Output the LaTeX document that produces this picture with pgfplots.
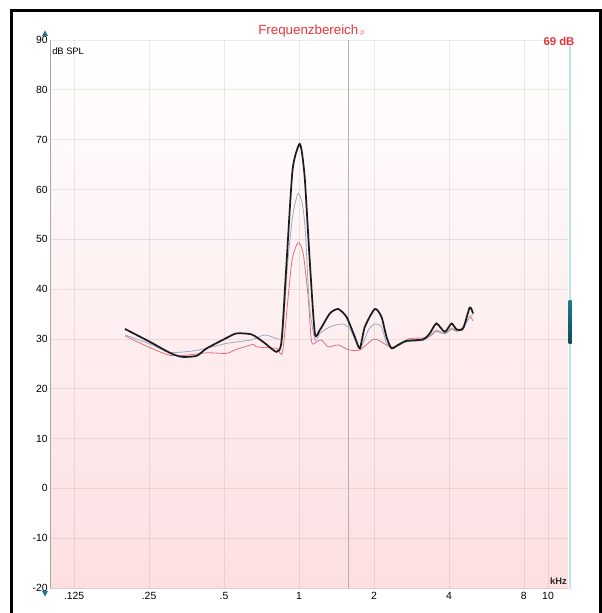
\documentclass[border=0pt]{standalone}
\usepackage{fontspec}
\setmainfont{Liberation Sans}
\usepackage{pgfplots}
\pgfplotsset{compat=1.18}

\definecolor{curveblack}{HTML}{1C1C1C}
\definecolor{curveblue}{HTML}{98AAC4}
\definecolor{curvered}{HTML}{E0707E}
\definecolor{pinkbottom}{RGB}{253,223,225}
\definecolor{pinkline}{RGB}{232,200,202}
\definecolor{titlered}{HTML}{E8343C}
\definecolor{tealmark}{HTML}{1F7A88}
\definecolor{tealdark}{HTML}{0B4B56}
\definecolor{tealline}{HTML}{BFE2EA}

% frequency in kHz, level in dB SPL
\pgfplotstableread{
f     db
0.200 32.0
0.252 29.4
0.303 27.2
0.338 26.4
0.388 26.6
0.426 28.1
0.512 30.2
0.561 31.1
0.645 30.9
0.718 29.4
0.813 27.4
0.851 29.6
0.891 45.2
0.942 63.9
1.000 69.0
1.024 67.9
1.056 61.9
1.106 45.2
1.158 31.1
1.213 31.8
1.330 35.1
1.436 36.0
1.552 34.4
1.676 30.4
1.755 28.1
1.838 32.4
2.016 36.0
2.145 34.4
2.246 30.4
2.352 28.1
2.500 28.8
2.700 29.6
3.150 29.9
3.350 31.1
3.565 33.1
3.850 31.4
4.100 33.1
4.290 31.9
4.560 32.1
4.850 36.3
5.000 35.1
}\levelhigh

\pgfplotstableread{
f     db
0.200 30.8
0.252 29.0
0.303 27.3
0.388 27.7
0.512 29.1
0.645 29.8
0.729 30.8
0.838 29.9
0.860 31.0
0.900 45.0
0.942 54.5
0.990 59.2
1.030 57.2
1.060 51.8
1.100 37.1
1.158 29.8
1.213 31.1
1.330 32.4
1.490 33.0
1.600 32.1
1.755 28.1
1.900 31.8
2.016 33.0
2.145 32.4
2.246 29.1
2.352 28.3
2.500 28.6
2.700 29.4
3.150 29.7
3.350 30.6
3.565 31.8
3.850 31.0
4.100 32.2
4.290 31.6
4.560 32.0
4.850 34.5
5.000 34.8
}\levelmid

\pgfplotstableread{
f     db
0.200 30.6
0.303 26.7
0.426 27.2
0.512 27.1
0.561 27.9
0.655 28.9
0.675 28.4
0.813 28.1
0.860 27.6
0.934 45.2
0.992 49.3
1.039 47.2
1.088 38.5
1.123 29.4
1.176 29.4
1.232 29.8
1.310 28.4
1.436 28.8
1.587 27.8
1.755 27.8
1.985 29.9
2.110 29.6
2.315 28.4
2.500 28.6
2.750 30.0
3.150 30.2
3.350 30.5
3.565 31.5
3.850 31.0
4.100 32.0
4.290 31.5
4.560 32.4
4.850 34.4
5.000 33.6
}\levellow

\begin{document}
\begin{tikzpicture}
\useasboundingbox (0pt,0pt) rectangle (450.75pt,459.75pt);
\fill[white] (0pt,0pt) rectangle (450.75pt,459.75pt);

\begin{axis}[
  at={(37.5pt,18.75pt)}, anchor=south west,
  scale only axis, width=388.5pt, height=411pt,
  xmode=log, log basis x=2,
  xmin=0.1, xmax=12.03, ymin=-20, ymax=90,
  xtick={0.125,0.25,0.5,1,2,4,8,10},
  xticklabels={.125,.25,.5,1,2,4,8,10},
  ytick={-20,-10,...,90},
  major tick length=0pt,
  grid=major,
  grid style={black, opacity=0.08, line width=0.5pt},
  axis line style={draw=none},
  axis background/.style={top color=white, bottom color=pinkbottom},
  tick label style={font=\fontsize{7.8}{9}\selectfont, text=black},
  /pgf/number format/assume math mode=true,
  yticklabel style={inner sep=1.5pt},
  xticklabel style={inner sep=1pt, yshift=-2pt},
]
  % cursor line
  \draw[color=gray!60, line width=0.75pt] (axis cs:1.587,-20) -- (axis cs:1.587,90);

  \addplot[curvered, line width=0.6pt, smooth, tension=0.4] table[x=f, y=db] {\levellow};
  \addplot[curveblue, line width=0.6pt, smooth, tension=0.4] table[x=f, y=db] {\levelmid};
  \addplot[curveblack, line width=1.3pt, smooth, tension=0.4] table[x=f, y=db] {\levelhigh};
\end{axis}

\begin{scope}[x=0.75pt,y=0.75pt]
  % axis lines
  \draw[gray!70, line width=0.6pt] (50,25) -- (50,573);
  \draw[pinkline, line width=0.6pt] (50,25) -- (568,25);
  % level range markers
  \fill[tealmark] (42,577) -- (48,577) -- (45,582.5) -- cycle;
  \fill[tealmark] (42,22) -- (48,22) -- (45,16.5) -- cycle;
  % level slider
  \draw[tealline, line width=0.8pt] (570,568) -- (570,25);
  \draw[tealline, line width=0.5pt, fill=white] (570,25) circle (1.5);
  \shade[top color=tealmark, bottom color=tealdark] (568.5,269) rectangle (571.5,312);
  % labels
  \node[anchor=west, inner sep=0, font=\fontsize{7}{8}\selectfont] at (52,562) {dB SPL};
  \node[anchor=east, inner sep=0, font=\bfseries\fontsize{7}{8}\selectfont, text=black!85] at (567,32) {kHz};
  \node[anchor=west, inner sep=0, text=titlered, font=\fontsize{10}{12}\selectfont] at (258,582) {Frequenzbereich};
  \node[anchor=west, inner sep=0, text=titlered!70, font=\fontsize{5.5}{6}\selectfont] at (360,579.5) {ρ};
  \node[inner sep=0, text=titlered, font=\bfseries\fontsize{8.5}{10}\selectfont] at (559,572) {69 dB};
  % outer frame
  \draw[black, line width=2.25pt] (11,0) -- (11,602) -- (600,602) -- (600,0);
\end{scope}
\end{tikzpicture}
\end{document}
